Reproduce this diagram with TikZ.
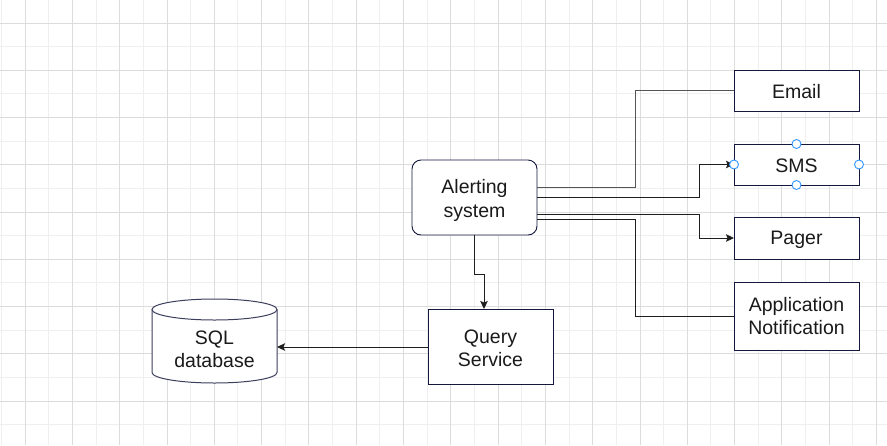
\documentclass[tikz,border=0pt]{standalone}
\usepackage{fontspec}
\setmainfont{Liberation Sans}
\usetikzlibrary{arrows.meta}
\definecolor{gridD}{RGB}{220,220,220}
\definecolor{gridL}{RGB}{239,239,239}
\definecolor{boxline}{RGB}{20,24,60}
\definecolor{cylline}{RGB}{60,62,92}
\definecolor{txt}{RGB}{26,26,26}
\definecolor{conn}{RGB}{30,30,30}
\definecolor{conngray}{RGB}{85,85,85}
\definecolor{handle}{RGB}{51,150,255}
\begin{document}
\begin{tikzpicture}[x=1pt,y=-1pt,
  box/.style={draw=boxline,line width=0.9pt,fill=white,minimum width=125pt,inner sep=0pt,outer sep=0pt,
    align=center,text=txt,font=\fontsize{19.5}{23.4}\selectfont},
  rbox/.style={box,rounded corners=9pt},
  conline/.style={draw=conn,line width=0.9pt},
  arr/.style={conline,-{Stealth[length=8pt,width=7.5pt,inset=1.5pt]}},
  hnd/.style={draw=handle,fill=white,line width=0.9pt,circle,minimum size=9pt,inner sep=0pt}
]
\useasboundingbox (0,0) rectangle (887,445);
\fill[white] (0,0) rectangle (887,445);
% grid
\foreach \k in {0,2,...,38}{
  \pgfmathsetmacro\gx{1.35+23.65*\k}
  \draw[gridL,line width=0.8pt] (\gx,0) -- (\gx,445);
}
\foreach \k in {0,2,...,20}{
  \pgfmathsetmacro\gy{-0.625+23.625*\k}
  \draw[gridL,line width=0.8pt] (0,\gy) -- (887,\gy);
}
\foreach \k in {1,3,...,37}{
  \pgfmathsetmacro\gx{1.35+23.65*\k}
  \draw[gridD,line width=0.8pt] (\gx,0) -- (\gx,445);
}
\foreach \k in {1,3,...,19}{
  \pgfmathsetmacro\gy{-0.625+23.625*\k}
  \draw[gridD,line width=0.8pt] (0,\gy) -- (887,\gy);
}
% nodes
\node[rbox,minimum height=75pt] (alert) at (474.5,197.5) {\rule{0pt}{20pt}Alerting\\system};
\node[box,minimum height=41pt] (email) at (796.5,90.5) {\rule{0pt}{16pt}Email};
\node[box,minimum height=41pt] (sms) at (796.5,164.5) {\rule{0pt}{16pt}SMS};
\node[box,minimum height=42pt] (pager) at (796.5,238) {\rule{0pt}{17pt}Pager};
\node[box,minimum height=68pt] (app) at (796.5,316) {Application\\Notification};
\node[box,minimum height=75pt] (query) at (490.5,346.5) {\rule{0pt}{17pt}Query\\Service};
% cylinder
\fill[white] (152,309.5) -- (152,372.5) arc[start angle=180,end angle=360,x radius=62.5pt,y radius=10.5pt] -- (277,309.5) arc[start angle=0,end angle=180,x radius=62.5pt,y radius=10.5pt] -- cycle;
\draw[cylline,line width=1pt] (152,309.5) -- (152,372.5) arc[start angle=180,end angle=360,x radius=62.5pt,y radius=10.5pt] -- (277,309.5);
\draw[cylline,line width=1pt] (214.5,309.5) ellipse[x radius=62.5pt,y radius=10.5pt];
\node[text=txt,font=\fontsize{19.5}{23.4}\selectfont,align=center] (sql) at (214.5,349) {SQL\\database};
\coordinate (sqlE) at (277,347);
% connectors
\draw[conline,draw=conngray] ([yshift=10.5pt]alert.east) -- ++(98.5,0) |- (email.west);
\draw[arr] ([yshift=0.5pt]alert.east) -- ++(162,0) |- (sms.west);
\draw[arr] ([yshift=-16.5pt]alert.east) -- ++(162,0) |- (pager.west);
\draw[conline] ([yshift=-22pt]alert.east) -- ++(98.5,0) |- (app.west);
\draw[arr] (alert.south) -- ++(0,39) -| ([xshift=-6.5pt]query.north);
\draw[arr] ([yshift=-0.5pt]query.west) -- (sqlE);
% selection handles
\node[hnd] (h1) at (sms.north) {};
\node[hnd] (h2) at (sms.south) {};
\node[hnd] (h3) at (sms.west) {};
\node[hnd] (h4) at (sms.east) {};
\end{tikzpicture}
\end{document}
